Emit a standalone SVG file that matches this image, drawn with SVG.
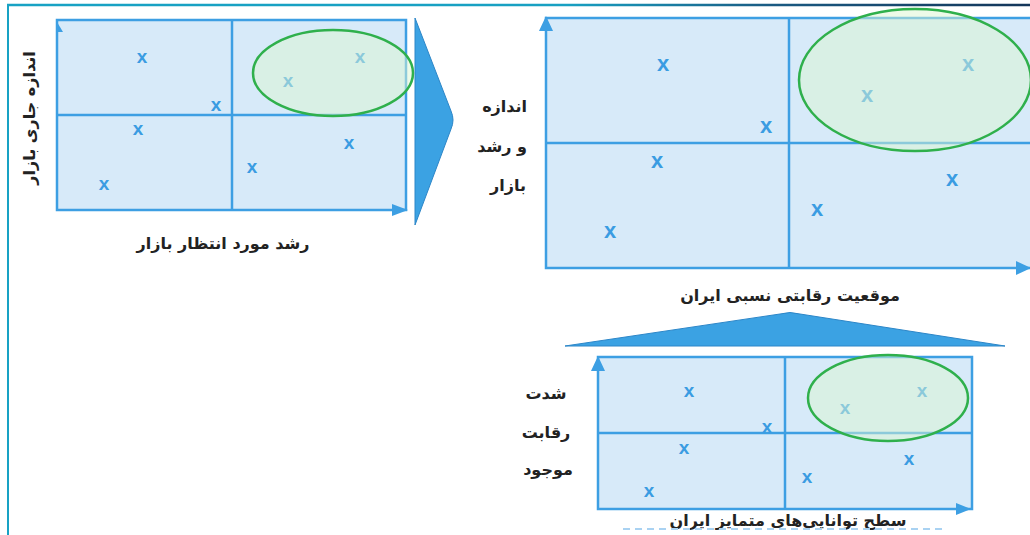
<svg xmlns="http://www.w3.org/2000/svg" width="1030" height="535" viewBox="0 0 1030 535">
<defs>
<linearGradient id="topline" x1="0" y1="0" x2="1030" y2="0" gradientUnits="userSpaceOnUse">
<stop offset="0" stop-color="#18a2c4"/>
<stop offset="0.55" stop-color="#18a0c2"/>
<stop offset="0.75" stop-color="#1a5a82"/>
<stop offset="1" stop-color="#14365a"/>
</linearGradient>
<style>
.box{fill:#d7eaf9;stroke:#3d9fe3;stroke-width:2.5}
.div{stroke:#3d9fe3;stroke-width:2.5;fill:none}
.ax{fill:#3d9fe3}
.oval{fill:#dcf5d2;fill-opacity:0.5;stroke:#2fb04c;stroke-width:2.5}
.mk{font-family:"Liberation Sans",Arial,sans-serif;font-weight:bold;fill:#3a9ce2;text-anchor:middle}
.lbl{font-family:"DejaVu Sans",sans-serif;font-weight:bold;fill:#222;font-size:16px}
.big{fill:#3ba2e3;stroke:#2c86c8;stroke-width:1}
</style>
</defs>
<rect width="1030" height="535" fill="#ffffff"/>
<line x1="7" y1="5" x2="1030" y2="5" stroke="url(#topline)" stroke-width="2.5"/>
<line x1="8" y1="4" x2="8" y2="535" stroke="#18a2c4" stroke-width="2"/>

<g id="chart-market">
<rect class="box" x="57" y="20" width="349" height="190"/>
<line class="div" x1="232" y1="20" x2="232" y2="210"/>
<line class="div" x1="57" y1="115" x2="406" y2="115"/>
<polygon class="ax" points="392,204 408,210 392,216"/>
<polygon class="ax" points="57,22 63,32 57,32"/>
<text class="mk" font-size="19" x="142" y="63">x</text>
<text class="mk" font-size="19" x="216" y="111">x</text>
<text class="mk" font-size="19" x="138" y="135">x</text>
<text class="mk" font-size="19" x="104" y="190">x</text>
<text class="mk" font-size="19" x="288" y="87">x</text>
<text class="mk" font-size="19" x="360" y="63">x</text>
<text class="mk" font-size="19" x="252" y="173">x</text>
<text class="mk" font-size="19" x="349" y="149">x</text>
<ellipse class="oval" cx="333" cy="73" rx="80" ry="43"/>
<text class="lbl" transform="translate(35,118) rotate(-90)" text-anchor="middle" font-size="17">اندازه جاری بازار</text>
<text class="lbl" x="223" y="249" text-anchor="middle" font-size="16">رشد مورد انتظار بازار</text>
</g>

<g id="arrow-right">
<path class="big" d="M415,18 L451,111 Q455,120 451,129 L415,225 Z"/>
</g>

<g id="chart-position">
<rect class="box" x="546" y="18" width="500" height="250" stroke-width="3"/>
<line class="div" x1="789" y1="18" x2="789" y2="268" stroke-width="3"/>
<line class="div" x1="546" y1="143" x2="1030" y2="143" stroke-width="3"/>
<polygon class="ax" points="1016,261 1031,268 1016,275"/>
<polygon class="ax" points="546,16 553,31 539,31"/>
<text class="mk" font-size="22" x="663" y="71">x</text>
<text class="mk" font-size="22" x="766" y="133">x</text>
<text class="mk" font-size="22" x="657" y="168">x</text>
<text class="mk" font-size="22" x="610" y="238">x</text>
<text class="mk" font-size="22" x="867" y="102">x</text>
<text class="mk" font-size="22" x="968" y="71">x</text>
<text class="mk" font-size="22" x="952" y="186">x</text>
<text class="mk" font-size="22" x="817" y="216">x</text>
<ellipse class="oval" cx="915" cy="80" rx="116" ry="71"/>
<text class="lbl" x="527" y="112" text-anchor="end" font-size="15">اندازه</text>
<text class="lbl" x="527" y="152" text-anchor="end" font-size="15">و رشد</text>
<text class="lbl" x="526" y="191" text-anchor="end" font-size="15">بازار</text>
<text class="lbl" x="790" y="301" text-anchor="middle" font-size="16">موقعیت رقابتی نسبی ایران</text>
</g>

<g id="arrow-up">
<path class="big" d="M565,346 L780,314 Q790,311 800,314 L1005,346 Z"/>
</g>

<g id="chart-competition">
<rect class="box" x="598" y="357" width="374" height="152"/>
<line class="div" x1="785" y1="357" x2="785" y2="509"/>
<line class="div" x1="598" y1="433" x2="972" y2="433"/>
<polygon class="ax" points="956,503 971,509 956,515"/>
<polygon class="ax" points="598,356 605,371 591,371"/>
<text class="mk" font-size="19" x="689" y="397">x</text>
<text class="mk" font-size="19" x="767" y="433">x</text>
<text class="mk" font-size="19" x="684" y="454">x</text>
<text class="mk" font-size="19" x="649" y="497">x</text>
<text class="mk" font-size="19" x="845" y="414">x</text>
<text class="mk" font-size="19" x="922" y="397">x</text>
<text class="mk" font-size="19" x="909" y="465">x</text>
<text class="mk" font-size="19" x="807" y="483">x</text>
<ellipse class="oval" cx="888" cy="398" rx="80" ry="43"/>
<text class="lbl" x="546" y="399" text-anchor="middle" font-size="17">شدت</text>
<text class="lbl" x="546" y="438" text-anchor="middle" font-size="17">رقابت</text>
<text class="lbl" x="548" y="475" text-anchor="middle" font-size="17">موجود</text>
<text class="lbl" x="788" y="526" text-anchor="middle" font-size="17">سطح توانایی‌های متمایز ایران</text>
<line x1="623" y1="529" x2="947" y2="529" stroke="#a9d2f2" stroke-width="2" stroke-dasharray="7 5"/>
</g>
</svg>
